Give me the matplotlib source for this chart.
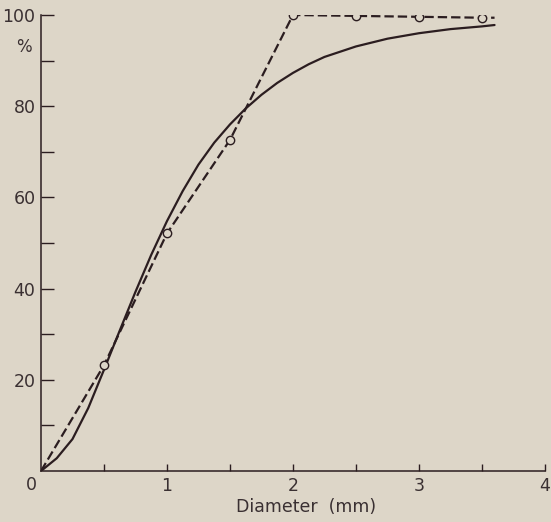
import matplotlib
matplotlib.use("Agg")
import matplotlib.pyplot as plt

# Measured points (dashed line, open circles) and fitted curve (solid line)
meas_x = [0.0, 0.5, 1.0, 1.5, 2.0, 2.5, 3.0, 3.5, 3.6]
meas_y = [0.0, 23.2, 52.1, 72.6, 100.0, 99.8, 99.6, 99.4, 99.4]
marker_idx = [1, 2, 3, 4, 5, 6, 7]

curve_x = [0.0, 0.125, 0.25, 0.375, 0.5, 0.625, 0.75, 0.875, 1.0, 1.125,
           1.25, 1.375, 1.5, 1.625, 1.75, 1.875, 2.0, 2.125, 2.25, 2.5,
           2.75, 3.0, 3.25, 3.5, 3.6]
curve_y = [0.0, 2.8, 7.0, 13.8, 22.2, 30.8, 39.3, 47.4, 54.8, 61.4,
           67.2, 72.0, 76.0, 79.5, 82.5, 85.1, 87.3, 89.2, 90.8, 93.1,
           94.8, 96.0, 96.9, 97.5, 97.8]

x_ticks_major = [1, 2, 3, 4]
x_ticks_minor = [0.5, 1.5, 2.5, 3.5]
y_ticks_major = [20, 40, 60, 80, 100]
y_ticks_minor = [10, 30, 50, 70, 90]

BG = "#ddd6c8"
INK = "#2b1d20"
TXT = "#3a3032"

plt.rcParams["font.family"] = "DejaVu Sans"

fig = plt.figure(figsize=(5.51, 5.22), dpi=100)
fig.patch.set_facecolor(BG)
ax = fig.add_axes([0.0744, 0.0977, 0.9146, 0.8736])
ax.set_facecolor(BG)

ax.plot(curve_x, curve_y, color=INK, lw=1.6, solid_joinstyle="round",
        solid_capstyle="round", zorder=3)
ax.plot(meas_x, meas_y, color=INK, lw=1.6, dashes=(4.2, 1.8),
        marker="o", markevery=marker_idx, markersize=6,
        markerfacecolor=BG, markeredgecolor=INK, markeredgewidth=1.0,
        zorder=4)

ax.set_xlim(0, 4)
ax.set_ylim(0, 100)
for side in ("top", "right"):
    ax.spines[side].set_visible(False)
for side in ("left", "bottom"):
    ax.spines[side].set_color(INK)
    ax.spines[side].set_linewidth(1.1)

ax.set_xticks(x_ticks_major)
ax.set_xticks(x_ticks_minor, minor=True)
ax.set_yticks(y_ticks_major)
ax.set_yticks(y_ticks_minor, minor=True)
ax.set_xticklabels([str(v) for v in x_ticks_major])
ax.set_yticklabels([str(v) for v in y_ticks_major])

ax.tick_params(axis="x", which="both", direction="in", length=5, width=1,
               color=INK, labelcolor=TXT, labelsize=12.5, pad=4)
ax.tick_params(axis="y", which="both", direction="in", length=9, width=1,
               color=INK, labelcolor=TXT, labelsize=12.5, pad=4)

# shared origin label and unit labels
ax.annotate("0", xy=(0, 0), xytext=(-7, -10), textcoords="offset points",
            ha="center", va="center", fontsize=12.5, color=TXT,
            annotation_clip=False)
ax.annotate("%", xy=(0, 93), xytext=(-12, 0), textcoords="offset points",
            ha="center", va="center", fontsize=12, color=TXT,
            annotation_clip=False)
ax.text(0.525, -0.08, "Diameter  (mm)", transform=ax.transAxes,
        ha="center", va="center", fontsize=12.5, color=TXT)

fig.savefig("out.png", dpi=100, facecolor=BG)
